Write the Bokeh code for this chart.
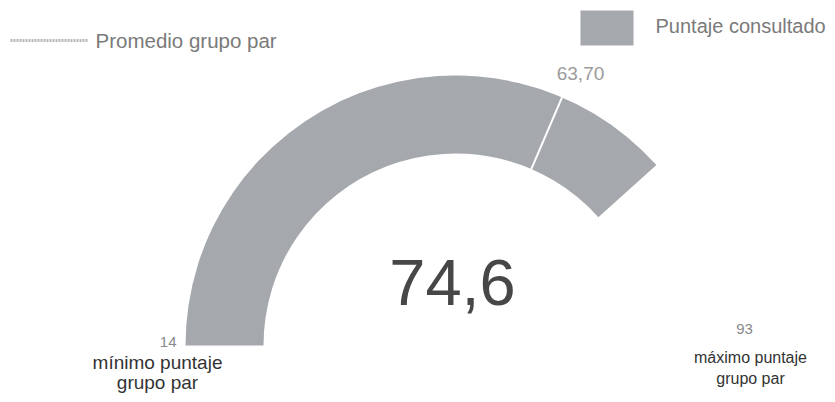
import math
from bokeh.plotting import figure
from bokeh.models import Range1d
from bokeh.core.properties import value
from bokeh.embed import file_html
from bokeh.resources import INLINE

# ---- data ----
min_score = 14
max_score = 93
score = 74.6
peer_average = 63.70
score_label = "74,6"
average_label = "63,70"
min_label = ["mínimo puntaje", "grupo par"]
max_label = ["máximo puntaje", "grupo par"]
legend_line_label = "Promedio grupo par"
legend_box_label = "Puntaje consultado"

FONT = value("Liberation Sans")
ARC_COLOR = "#a5a8ad"

W, H = 835, 402
p = figure(width=W, height=H, output_backend="svg", toolbar_location=None,
           x_range=Range1d(0, W), y_range=Range1d(0, H), min_border=0)
p.axis.visible = False
p.grid.visible = False
p.outline_line_color = None
p.background_fill_color = "white"
p.border_fill_color = "white"

cx, cy = 455, 57
r_out, r_in = 270, 192


def angle_of(v):
    return math.pi * (1 - (v - min_score) / (max_score - min_score))


# gauge arc
p.annular_wedge(x=[cx], y=[cy], inner_radius=r_in, outer_radius=r_out,
                start_angle=[angle_of(score)], end_angle=[math.pi],
                fill_color=ARC_COLOR, line_color=None)

# peer average marker
a = angle_of(peer_average)
p.segment(x0=[cx + r_in * math.cos(a)], y0=[cy + r_in * math.sin(a)],
          x1=[cx + r_out * math.cos(a)], y1=[cy + r_out * math.sin(a)],
          line_color="white", line_width=2)
p.text(x=[580], y=[329], text=[average_label], text_font=FONT,
       text_font_size="19px", text_color="#9a9a9a",
       text_align="center", text_baseline="middle")

# central value
p.text(x=[452], y=[120], text=[score_label], text_font=FONT,
       text_font_size="65px", text_color="#474747",
       text_align="center", text_baseline="middle")

# min / max
p.text(x=[176], y=[61], text=[str(min_score)], text_font=FONT,
       text_font_size="15px", text_color="#8a8a8a",
       text_align="right", text_baseline="middle")
p.text(x=[744], y=[74], text=[str(max_score)], text_font=FONT,
       text_font_size="15px", text_color="#8a8a8a",
       text_align="center", text_baseline="middle")
p.text(x=[157, 157], y=[40, 20], text=min_label, text_font=FONT,
       text_font_size="19px", text_color="#333333",
       text_align="center", text_baseline="middle")
p.text(x=[750, 750], y=[45, 24], text=max_label, text_font=FONT,
       text_font_size="16px", text_color="#333333",
       text_align="center", text_baseline="middle")

# legends
p.segment(x0=[10], y0=[362], x1=[88], y1=[362], line_color="#b5b8bc",
          line_width=3, line_dash="2 1")
p.text(x=[95], y=[362], text=[legend_line_label], text_font=FONT,
       text_font_size="20.5px", text_color="#7a7a7a",
       text_align="left", text_baseline="middle")
p.rect(x=[606.5], y=[374.5], width=53, height=35, fill_color=ARC_COLOR,
       line_color=None)
p.text(x=[655], y=[377], text=[legend_box_label], text_font=FONT,
       text_font_size="20px", text_color="#7a7a7a",
       text_align="left", text_baseline="middle")

open("out.html", "w").write(file_html(p, INLINE))
